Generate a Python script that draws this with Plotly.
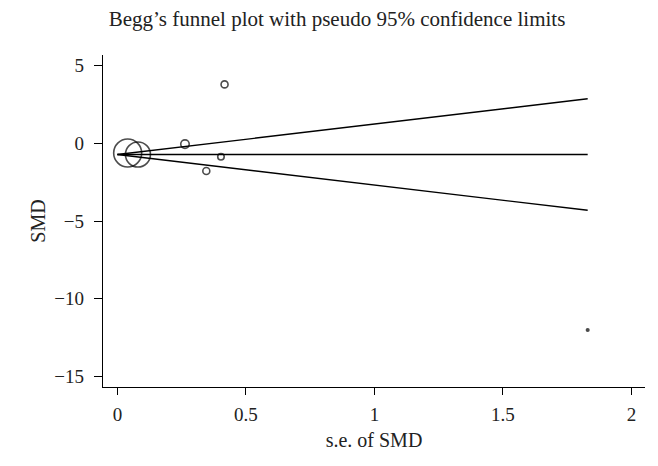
import plotly.graph_objects as go

# Study data
se_smd = [0.04, 0.08, 0.263, 0.417, 0.403, 0.346, 1.83]
smd = [-0.62, -0.72, -0.05, 3.79, -0.86, -1.78, -12.0]
pooled_smd = -0.72

x_ticks = [0, 0.5, 1, 1.5, 2]
x_tick_labels = ["0", "0.5", "1", "1.5", "2"]
y_ticks = [5, 0, -5, -10, -15]
y_tick_labels = ["5", "0", "\u22125", "\u221210", "\u221215"]

# marker styling (weights shown as symbol size)
marker_sizes = [28, 25, 8.5, 7, 6.5, 7, 2.5]

se_max = max(se_smd)
z = 1.96

font_family = "Liberation Serif, Times New Roman, serif"

W, H = 658, 466

fig = go.Figure()

line_style = dict(color="black", width=1.4)
fig.add_trace(go.Scatter(x=[0, se_max], y=[pooled_smd, pooled_smd + z * se_max],
                         mode="lines", line=line_style, showlegend=False, hoverinfo="skip"))
fig.add_trace(go.Scatter(x=[0, se_max], y=[pooled_smd, pooled_smd],
                         mode="lines", line=line_style, showlegend=False, hoverinfo="skip"))
fig.add_trace(go.Scatter(x=[0, se_max], y=[pooled_smd, pooled_smd - z * se_max],
                         mode="lines", line=line_style, showlegend=False, hoverinfo="skip"))

symbols = ["circle-open" if s > 3 else "circle" for s in marker_sizes]
fig.add_trace(go.Scatter(
    x=se_smd, y=smd, mode="markers",
    marker=dict(size=marker_sizes, symbol=symbols, color="black",
                line=dict(color="black", width=1.6)),
    showlegend=False))

fig.update_layout(
    width=W, height=H,
    paper_bgcolor="white", plot_bgcolor="white",
    margin=dict(l=103, r=13, t=55, b=79, autoexpand=False),
    font=dict(family=font_family, size=19, color="#222"),
    title=dict(text="Begg\u2019s funnel plot with pseudo 95% confidence limits",
               x=337 / W, xanchor="center",
               y=1 - 19 / H, yanchor="middle",
               font=dict(family=font_family, size=21, color="#222")),
)
fig.update_xaxes(
    range=[-0.056, 2.053], tickvals=x_ticks, ticktext=x_tick_labels,
    showline=True, linecolor="black", linewidth=1.4, mirror=False,
    ticks="outside", ticklen=7, tickwidth=1.4, tickcolor="black",
    ticklabelstandoff=3,
    showgrid=False, zeroline=False,
    title=dict(text="s.e. of SMD", standoff=8, font=dict(size=20)),
    tickfont=dict(size=19),
)
fig.update_yaxes(
    range=[-15.67, 5.68], tickvals=y_ticks, ticktext=y_tick_labels,
    showline=True, linecolor="black", linewidth=1.4, mirror=False,
    ticks="outside", ticklen=8, tickwidth=1.4, tickcolor="black",
    ticklabelstandoff=6,
    showgrid=False, zeroline=False,
    title=dict(text="SMD", standoff=3, font=dict(size=20)),
    tickfont=dict(size=19),
)

fig.write_html("out.html",
               config={"displayModeBar": False},
               post_script="document.body.style.margin='0';document.body.style.overflow='hidden';")
